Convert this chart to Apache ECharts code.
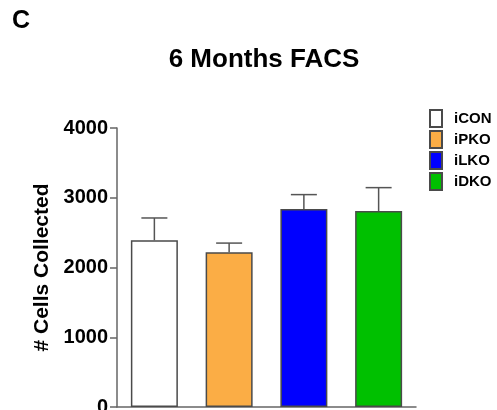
<!DOCTYPE html>
<html><head><meta charset="utf-8">
<script src="https://cdn.jsdelivr.net/npm/echarts@6/dist/echarts.min.js"></script>
<style>html,body{margin:0;padding:0;background:#fff}#c{width:497px;height:410px}</style>
</head><body><div id="c"></div>
<script>
var categories = ['iCON', 'iPKO', 'iLKO', 'iDKO'];
var means = [2390, 2220, 2840, 2810];
var errors = [320, 130, 205, 335];
var colors = ['#FFFFFF', '#FBAD45', '#0000FF', '#00C000'];
var yTicks = [0, 1000, 2000, 3000, 4000];

var font = 'Liberation Sans, Arial, sans-serif';
var series = categories.map(function (name, i) {
  return {
    name: name, type: 'bar', barWidth: 47, barGap: '-100%',
    data: categories.map(function (c, j) { return j === i ? means[j] : '-'; }),
    itemStyle: { color: colors[i], borderColor: '#4a4a4a', borderWidth: 1.5 },
    emphasis: { disabled: true }, z: 2
  };
});
series.push({
  type: 'custom', z: 5, silent: true,
  data: categories.map(function (c, i) { return [i, means[i], errors[i]]; }),
  renderItem: function (params, api) {
    var x = api.value(0), m = api.value(1), e = api.value(2);
    var p0 = api.coord([x, m]), p1 = api.coord([x, m + e]);
    var half = 13;
    var st = { stroke: '#555', lineWidth: 1.5 };
    return { type: 'group', children: [
      { type: 'line', shape: { x1: p0[0], y1: p0[1], x2: p1[0], y2: p1[1] }, style: st },
      { type: 'line', shape: { x1: p1[0] - half, y1: p1[1], x2: p1[0] + half, y2: p1[1] }, style: st }
    ]};
  }
});

var chart = echarts.init(document.getElementById('c'));
chart.setOption({
  animation: false,
  title: { text: '6 Months FACS', left: 259, textAlign: 'center', top: 42,
    textStyle: { fontFamily: font, fontWeight: 'bold', fontSize: 26, color: '#000' } },
  graphic: [{ type: 'text', left: 12, top: 9, style: { text: 'C', font: 'bold 25px ' + font, fill: '#000' } }],
  legend: { orient: 'vertical', left: 429, top: 109, padding: 0, itemWidth: 12, itemHeight: 17, itemGap: 2,
    icon: 'rect', data: categories, selectedMode: false,
    textStyle: { fontFamily: font, fontWeight: 'bold', fontSize: 15, color: '#000', padding: [0, 0, 0, 7] } },
  grid: { left: 117, right: 81, top: 128, bottom: 3, containLabel: false, outerBoundsMode: 'none' },
  xAxis: { type: 'category', data: categories,
    axisLine: { lineStyle: { color: '#666', width: 1.5 } },
    axisTick: { show: false }, axisLabel: { show: false } },
  yAxis: { type: 'value', min: yTicks[0], max: yTicks[yTicks.length - 1], interval: 1000,
    name: '# Cells Collected', nameLocation: 'middle', nameGap: 59,
    nameTextStyle: { fontFamily: font, fontWeight: 'bold', fontSize: 21, color: '#000' },
    axisLine: { show: true, lineStyle: { color: '#666', width: 1.5 } },
    axisTick: { show: true, length: 7, lineStyle: { color: '#666', width: 1.5 } },
    axisLabel: { margin: 9, fontFamily: font, fontWeight: 'bold', fontSize: 20, color: '#000',
      formatter: function (v) { return String(v); } },
    splitLine: { show: false } },
  series: series
});
</script></body></html>
